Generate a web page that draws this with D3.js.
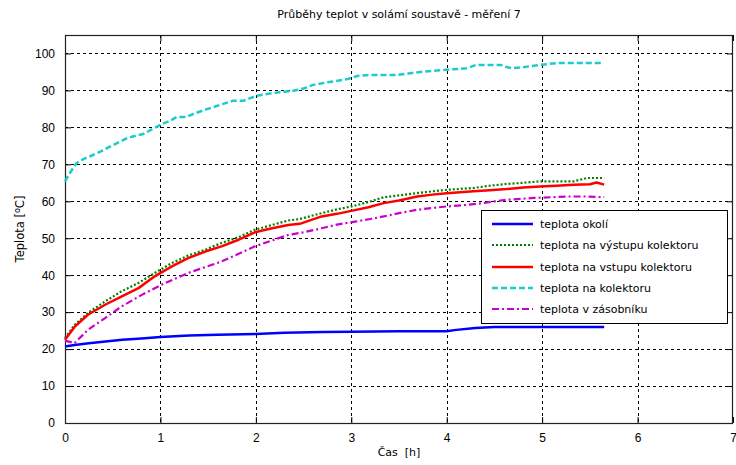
<!DOCTYPE html>
<html><head><meta charset="utf-8">
<script src="https://cdn.jsdelivr.net/npm/d3@7"></script>
<style>body{margin:0;background:#fff}svg{display:block}</style>
</head><body>
<script>
const xTicks = [0,1,2,3,4,5,6,7];
const yTicks = [0,10,20,30,40,50,60,70,80,90,100];
const titleText = "Průběhy teplot v solámí soustavě - měření 7";
const seriesNames = ["teplota okolí","teplota na výstupu kolektoru","teplota na vstupu kolektoru","teplota na kolektoru","teplota v zásobníku"];

const tOkoli = [0,0.1,0.25,0.4,0.6,0.8,1.0,1.3,1.6,2.0,2.3,2.7,3.0,3.5,4.0,4.1,4.3,4.5,5.0,5.65];
const vOkoli = [20.7,21.1,21.6,22.0,22.5,22.9,23.3,23.7,23.9,24.1,24.4,24.6,24.7,24.8,24.8,25.2,25.7,26.0,26.0,26.0];

const tVystup = [0,0.1,0.24,0.42,0.59,0.77,0.94,1.12,1.29,1.47,1.64,1.82,1.99,2.17,2.34,2.46,2.69,2.85,3.02,3.18,3.34,3.5,3.69,3.85,4.0,4.28,4.45,4.63,4.8,4.98,5.15,5.33,5.47,5.65];
const vVystup = [23.0,26.5,29.8,32.9,35.6,37.9,40.6,43.3,45.3,46.9,48.7,50.3,52.3,53.6,54.8,55.2,56.8,57.8,58.7,59.8,61.1,61.6,62.2,62.7,63.1,63.6,64.2,64.7,65.0,65.4,65.4,65.4,66.3,66.3];

const tVstup = [0,0.1,0.24,0.42,0.59,0.77,0.94,1.12,1.29,1.47,1.64,1.82,1.99,2.17,2.34,2.46,2.69,2.85,3.0,3.18,3.34,3.5,3.69,3.85,4.0,4.28,4.45,4.63,4.8,4.98,5.15,5.33,5.5,5.57,5.65];
const vVstup = [22.5,26.0,29.3,32.0,34.2,36.5,39.7,42.4,44.6,46.4,47.8,49.6,51.6,52.7,53.6,53.9,55.9,56.6,57.4,58.4,59.5,60.2,61.3,61.8,62.2,62.7,63.0,63.3,63.7,64.0,64.2,64.5,64.6,65.1,64.5];

const tKolektor = [0,0.06,0.12,0.2,0.3,0.4,0.47,0.55,0.65,0.75,0.82,0.9,1.0,1.1,1.17,1.27,1.35,1.45,1.52,1.65,1.76,1.87,2.0,2.15,2.25,2.39,2.5,2.6,2.75,2.95,3.06,3.2,3.48,3.6,3.75,4.0,4.21,4.31,4.56,4.62,4.68,4.8,4.98,5.15,5.4,5.64];
const vKolektor = [65.4,68.0,70.3,71.5,72.6,73.8,74.8,75.8,77.1,77.8,78.2,79.3,80.7,81.8,82.8,82.8,83.7,84.6,85.2,86.3,87.2,87.2,88.5,89.2,89.5,89.9,90.5,91.5,92.2,93.0,93.9,94.2,94.2,94.6,95.1,95.6,96.0,96.9,96.9,96.4,96.0,96.3,96.9,97.4,97.4,97.4];

const tZasobnik = [0,0.1,0.24,0.42,0.59,0.8,1.01,1.15,1.29,1.47,1.64,1.82,1.99,2.17,2.34,2.5,2.69,2.85,3.04,3.2,3.34,3.5,3.69,3.85,4.0,4.2,4.38,4.5,4.63,4.91,5.1,5.26,5.45,5.65];
const vZasobnik = [22.3,21.6,25.2,28.4,31.5,34.6,37.4,39.0,40.6,42.2,43.7,45.8,47.8,49.4,50.9,51.6,52.7,53.7,54.5,55.2,55.9,56.8,57.7,58.2,58.6,59.0,59.5,60.0,60.4,60.9,61.1,61.3,61.3,61.1];

const W = 736, H = 465;
const L = 65, R = 733, T = 35, B = 423;
const svg = d3.select("body").append("svg").attr("width", W).attr("height", H);
const x = d3.scaleLinear().domain([0,7]).range([L,R]);
const y = d3.scaleLinear().domain([0,105]).range([B,T]);
const font = "'Liberation Sans', Arial, sans-serif";
const tfont = "'DejaVu Sans', Verdana, sans-serif";

// grid
const g = svg.append("g");
g.selectAll(".gx").data(xTicks.slice(1,-1)).join("line")
  .attr("x1", d=>Math.round(x(d))+0.5).attr("x2", d=>Math.round(x(d))+0.5)
  .attr("y1", T).attr("y2", B).attr("stroke","#000").attr("stroke-width",1).attr("stroke-dasharray","3,3");
g.selectAll(".gy").data(yTicks.slice(1)).join("line")
  .attr("y1", d=>Math.round(y(d))+0.5).attr("y2", d=>Math.round(y(d))+0.5)
  .attr("x1", L).attr("x2", R).attr("stroke","#000").attr("stroke-width",1).attr("stroke-dasharray","3,3");

// axes via d3
const axB = d3.axisBottom(x).tickValues(xTicks).tickSize(-6).tickPadding(10).tickFormat(d3.format("d"));
const axL = d3.axisLeft(y).tickValues(yTicks).tickSize(-6).tickPadding(10).tickFormat(d3.format("d"));
const axT = d3.axisTop(x).tickValues(xTicks).tickSize(-6).tickFormat("");
const axR = d3.axisRight(y).tickValues(yTicks).tickSize(-6).tickFormat("");
function style(sel){ sel.select(".domain").remove(); sel.selectAll("line").attr("stroke","#000");
  sel.selectAll("text").attr("font-family",font).attr("font-size","12px").attr("fill","#000"); }
svg.append("g").attr("transform",`translate(0,${B})`).call(axB).call(style);
svg.append("g").attr("transform",`translate(${L},0)`).call(axL).call(style);
svg.append("g").attr("transform",`translate(0,${T})`).call(axT).call(style);
svg.append("g").attr("transform",`translate(${R},0)`).call(axR).call(style);

svg.append("rect").attr("x",L+0.5).attr("y",T+0.5).attr("width",R-L-1).attr("height",B-T)
  .attr("fill","none").attr("stroke","#222").attr("stroke-width",1.2);

// series
const series = [
  {t:tOkoli, v:vOkoli, color:"#0000ff", w:2.5, dash:null},
  {t:tVystup, v:vVystup, color:"#008000", w:2.2, dash:"2,2"},
  {t:tVstup, v:vVstup, color:"#ff0000", w:2.5, dash:null},
  {t:tKolektor, v:vKolektor, color:"#1ccccc", w:2.5, dash:"6,3"},
  {t:tZasobnik, v:vZasobnik, color:"#cc00cc", w:2.2, dash:"7,3,2,3"}
];
const line = d3.line().x(d=>x(d[0])).y(d=>y(d[1]));
series.forEach(s=>{
  svg.append("path").datum(s.t.map((t,i)=>[t,s.v[i]]))
    .attr("d", line).attr("fill","none").attr("stroke", s.color).attr("stroke-width", s.w)
    .attr("stroke-dasharray", s.dash).attr("stroke-linejoin","round");
});

// legend
const lg = svg.append("g");
lg.append("rect").attr("x",481.5).attr("y",210.5).attr("width",246).attr("height",113)
  .attr("fill","#fff").attr("stroke","#000").attr("stroke-width",1);
const ly = [224,245,267,288,309];
series.forEach((s,i)=>{
  lg.append("line").attr("x1",492).attr("x2",533).attr("y1",ly[i]).attr("y2",ly[i])
    .attr("stroke",s.color).attr("stroke-width",s.w).attr("stroke-dasharray",s.dash);
  lg.append("text").attr("x",540).attr("y",ly[i]+4).text(seriesNames[i])
    .attr("font-family",tfont).attr("font-size","11px").attr("fill","#000");
});

// title & labels
svg.append("text").attr("x",(L+R)/2).attr("y",18).attr("text-anchor","middle")
  .attr("font-family",tfont).attr("font-size","11px").text(titleText);
svg.append("text").attr("x",(L+R)/2).attr("y",456).attr("text-anchor","middle")
  .attr("font-family",tfont).attr("font-size","11px").attr("xml:space","preserve").text("Čas  [h]");
const yl = svg.append("text").attr("transform",`translate(24,${(T+B)/2}) rotate(-90)`).attr("text-anchor","middle")
  .attr("font-family",tfont).attr("font-size","11.5px");
yl.append("tspan").text("Teplota [");
yl.append("tspan").attr("dy",-4).attr("font-size","8px").text("o");
yl.append("tspan").attr("dy",4).text("C]");
</script>
</body></html>
